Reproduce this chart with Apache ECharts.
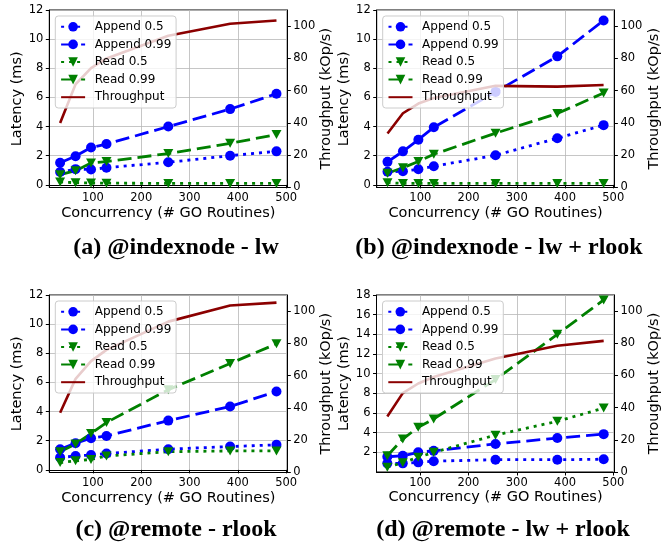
<!DOCTYPE html>
<html>
<head>
<meta charset="utf-8">
<script src="https://cdn.jsdelivr.net/npm/echarts@6/dist/echarts.min.js"></script>
<style>
  html, body { margin: 0; padding: 0; background: #fff; }
  #chart { width: 667px; height: 548px; }
</style>
</head>
<body>
<div id="chart"></div>
<script>
// shared x values (# GO routines) and tick labels
const concurrency = [32, 64, 96, 128, 256, 384, 480]
const xTicks = [100, 200, 300, 400, 500]
const latencyTicks = [0, 2, 4, 6, 8, 10, 12]
const latencyTicksD = [2, 4, 6, 8, 10, 12, 14, 16, 18]
const tputTicks = [0, 20, 40, 60, 80, 100]

const seriesNames = ['Append 0.5', 'Append 0.99', 'Read 0.5', 'Read 0.99', 'Throughput']
const captions = ['(a) @indexnode - lw', '(b) @indexnode - lw + rlook', '(c) @remote - rlook', '(d) @remote - lw + rlook']

// (a) @indexnode - lw
const append50A = [0.88, 1.08, 1.05, 1.18, 1.55, 2.0, 2.3]
const append99A = [1.52, 1.97, 2.57, 2.8, 4.0, 5.2, 6.25]
const read50A = [0.2, 0.15, 0.13, 0.12, 0.1, 0.1, 0.1]
const read99A = [0.7, 0.97, 1.5, 1.6, 2.15, 2.85, 3.45]
const tputA = [40, 64, 74, 80, 94, 101.5, 103.5]

// (b) @indexnode - lw + rlook
const append50B = [0.9, 0.93, 1.07, 1.28, 2.03, 3.2, 4.1]
const append99B = [1.58, 2.3, 3.1, 3.95, 6.38, 8.82, 11.28]
const read50B = [0.15, 0.1, 0.1, 0.1, 0.1, 0.1, 0.1]
const read99B = [0.8, 1.18, 1.6, 2.1, 3.55, 4.9, 6.3]
const tputB = [33.5, 46, 52, 55.5, 63, 62.5, 63.5]

// (c) @remote - rlook
const append50C = [0.85, 0.95, 1.02, 1.12, 1.42, 1.6, 1.72]
const append99C = [1.42, 1.83, 2.17, 2.33, 3.38, 4.35, 5.38]
const read50C = [0.5, 0.62, 0.72, 0.95, 1.25, 1.3, 1.3]
const read99C = [1.25, 1.78, 2.5, 3.25, 5.5, 7.3, 8.65]
const tputC = [37, 58, 69, 76, 93.5, 103.5, 105.3]

// (d) @remote - lw + rlook
const append50D = [0.88, 0.88, 0.98, 1.1, 1.25, 1.25, 1.3]
const append99D = [1.55, 1.65, 2.0, 2.15, 2.85, 3.45, 3.85]
const read50D = [0.48, 0.95, 1.5, 2.0, 3.75, 5.15, 6.5]
const read99D = [1.65, 3.35, 4.55, 5.4, 9.4, 14.0, 17.5]
const tputD = [34.5, 49, 55, 59, 70.5, 78.5, 81.5]

const panelData = [
  [append50A, append99A, read50A, read99A, tputA],
  [append50B, append99B, read50B, read99B, tputB],
  [append50C, append99C, read50C, read99C, tputC],
  [append50D, append99D, read50D, read99D, tputD]
]

// layout of the four plot areas
const grids = [
  { left: 49.3, top: 10, width: 238, height: 177.5 },
  { left: 376.7, top: 10, width: 237.7, height: 177.5 },
  { left: 49.3, top: 295, width: 238, height: 177.5 },
  { left: 376.5, top: 295, width: 238, height: 177 }
]
const latencyRange = [[-0.18, 12], [-0.18, 12], [-0.18, 12], [0, 18]]
const captionPos = [[176, 248], [499, 248], [176, 530], [503, 530]]

const font = 'DejaVu Sans'
const DASHED = [14, 6]
const DOTTED = [3, 5]
const TRI_DOWN = 'path://M0,0L10,0L5,9Z'

// style per series: color, dash, symbol
const seriesStyle = [
  { color: '#0000ff', dash: DOTTED, symbol: 'circle', size: 10 },
  { color: '#0000ff', dash: DASHED, symbol: 'circle', size: 10 },
  { color: '#008000', dash: DOTTED, symbol: TRI_DOWN, size: [10, 9] },
  { color: '#008000', dash: DASHED, symbol: TRI_DOWN, size: [10, 9] },
  { color: '#8b0000', dash: 'solid', symbol: 'none', size: 0 }
]

const axisText = { color: '#000', fontFamily: font, fontSize: 11.5 }
const nameText = { color: '#000', fontFamily: font, fontSize: 14.5 }

// legend entries: throughput is a plain line without marker
const legendItems = seriesNames.map(name =>
  name === 'Throughput' ? { name: name, itemStyle: { opacity: 0 } } : { name: name }
)

const option = {
  animation: false,
  backgroundColor: '#fff',
  grid: [],
  xAxis: [],
  yAxis: [],
  legend: [],
  series: [],
  graphic: []
}

grids.forEach((g, gi) => {
  option.grid.push(Object.assign({
    show: true, borderColor: '#000', borderWidth: 1, backgroundColor: 'transparent'
  }, g))

  option.xAxis.push({
    type: 'value', gridIndex: gi, min: 9.6, max: 502.4,
    name: 'Concurrency (# GO Routines)', nameLocation: 'middle', nameGap: 15,
    nameTextStyle: nameText,
    axisLine: { show: true, lineStyle: { color: '#000', width: 1 } },
    axisTick: { show: true, inside: false, length: 3.5, customValues: xTicks, lineStyle: { color: '#000' } },
    axisLabel: Object.assign({ customValues: xTicks, margin: 5 }, axisText),
    splitLine: { show: true, lineStyle: { color: '#b8b8b8', width: 0.8 } }
  })

  const lt = gi === 3 ? latencyTicksD : latencyTicks
  option.yAxis.push({
    type: 'value', gridIndex: gi, position: 'left',
    min: latencyRange[gi][0], max: latencyRange[gi][1],
    name: 'Latency (ms)', nameLocation: 'middle', nameGap: 20, nameRotate: 90,
    nameTextStyle: nameText,
    axisLine: { show: true, lineStyle: { color: '#000', width: 1 } },
    axisTick: { show: true, length: 3.5, customValues: lt, lineStyle: { color: '#000' } },
    axisLabel: Object.assign({ customValues: lt, margin: 6 }, axisText),
    splitLine: { show: true, lineStyle: { color: '#b8b8b8', width: 0.8 } }
  })
  option.yAxis.push({
    type: 'value', gridIndex: gi, position: 'right', min: 0, max: 110,
    name: 'Throughput (kOp/s)', nameLocation: 'middle', nameGap: 26, nameRotate: 90,
    nameTextStyle: nameText,
    axisLine: { show: true, lineStyle: { color: '#000', width: 1 } },
    axisTick: { show: true, length: 3.5, customValues: tputTicks, lineStyle: { color: '#000' } },
    axisLabel: Object.assign({ customValues: tputTicks, margin: 6 }, axisText),
    splitLine: { show: false }
  })

  seriesNames.forEach((name, si) => {
    const st = seriesStyle[si]
    const isTput = si === 4
    option.series.push({
      name: name,
      type: 'line',
      xAxisIndex: gi,
      yAxisIndex: gi * 2 + (isTput ? 1 : 0),
      data: concurrency.map((x, i) => [x, panelData[gi][si][i]]),
      symbol: st.symbol,
      symbolSize: st.size,
      showSymbol: !isTput,
      itemStyle: { color: st.color },
      lineStyle: { color: st.color, width: isTput ? 2.6 : 2.8, type: st.dash },
      z: isTput ? 3 : 2
    })
  })

  option.legend.push({
    data: legendItems,
    orient: 'vertical',
    left: g.left + 6,
    top: g.top + 6,
    padding: [4.8, 4.8, 4.8, 4.8],
    itemWidth: 24,
    itemHeight: 12,
    itemGap: 5.6,
    backgroundColor: 'rgba(255,255,255,0.8)',
    borderColor: '#cccccc',
    borderWidth: 1,
    borderRadius: 3,
    textStyle: { color: '#000', fontFamily: font, fontSize: 12, lineHeight: 12, padding: [0, 0, 0, 4.6] }
  })

  option.graphic.push({
    type: 'text',
    x: captionPos[gi][0],
    y: captionPos[gi][1],
    style: {
      text: captions[gi],
      fill: '#000',
      font: 'bold 24px "Liberation Serif"',
      align: 'center',
      verticalAlign: 'middle'
    }
  })
})

const chart = echarts.init(document.getElementById('chart'), null, { renderer: 'canvas' })
chart.setOption(option)
</script>
</body>
</html>
